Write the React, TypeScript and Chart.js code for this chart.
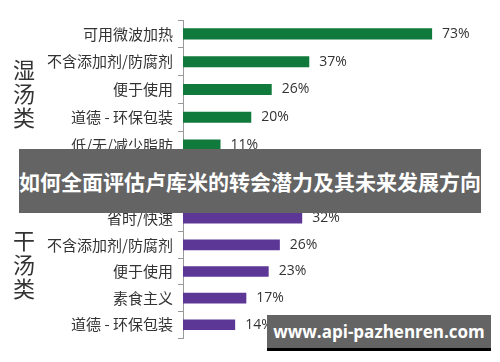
import React, { useEffect, useRef } from "react";
import { Chart, registerables } from "chart.js";

Chart.register(...registerables);

const wetCategories = ["可用微波加热", "不含添加剂/防腐剂", "便于使用", "道德 - 环保包装", "低/无/减少脂肪"];
const wetValues = [73, 37, 26, 20, 11];
const dryCategories = ["省时/快速", "不含添加剂/防腐剂", "便于使用", "素食主义", "道德 - 环保包装"];
const dryValues = [32, 26, 23, 17, 14];
const wetGroupLabel = ["湿", "汤", "类"];
const dryGroupLabel = ["干", "汤", "类"];
const bannerText = "如何全面评估卢库米的转会潜力及其未来发展方向";
const watermarkText = "www.api-pazhenren.com";

const CJK = '"Noto Sans CJK SC", "Noto Sans", sans-serif';

const valueLabelPlugin = {
  id: "valueLabels",
  afterDatasetsDraw(chart: any) {
    const ctx = chart.ctx;
    const meta = chart.getDatasetMeta(0);
    const data = chart.data.datasets[0].data;
    ctx.save();
    ctx.font = '14px "Open Sans", "Noto Sans", sans-serif';
    ctx.fillStyle = "#333333";
    ctx.textAlign = "left";
    ctx.textBaseline = "middle";
    meta.data.forEach((bar: any, i: number) => {
      ctx.fillText(data[i] + "%", bar.x + 10, bar.y);
    });
    ctx.restore();
  },
};

function makeConfig(labels: string[], values: number[], color: string, max: number, padTop: number, padBottom: number, padRight: number) {
  return {
    type: "bar" as const,
    data: {
      labels,
      datasets: [
        {
          data: values,
          backgroundColor: color,
          borderWidth: 0,
          barPercentage: 0.4,
          categoryPercentage: 1.0,
        },
      ],
    },
    options: {
      indexAxis: "y" as const,
      animation: false as const,
      responsive: false,
      maintainAspectRatio: false,
      layout: { padding: { top: padTop, bottom: padBottom, left: 0, right: padRight } },
      plugins: { legend: { display: false }, tooltip: { enabled: false } },
      scales: {
        x: { display: false, min: 0, max },
        y: {
          afterFit: (s: any) => {
            s.width = 183;
          },
          grid: {
            drawOnChartArea: false,
            drawTicks: true,
            tickLength: 5,
            color: "#9a9a9a",
            offset: true,
          },
          border: { display: true, color: "#9a9a9a", width: 1 },
          ticks: {
            padding: 5,
            color: "#333333",
            font: { family: CJK, size: 15 },
          },
        },
      },
    },
    plugins: [valueLabelPlugin],
  };
}

function BarChart(props: { labels: string[]; values: number[]; color: string; max: number; height: number; padTop: number; padBottom: number; padRight: number; top: number }) {
  const ref = useRef<HTMLCanvasElement>(null);
  useEffect(() => {
    if (!ref.current) return;
    const chart = new Chart(
      ref.current,
      makeConfig(props.labels, props.values, props.color, props.max, props.padTop, props.padBottom, props.padRight) as any
    );
    return () => chart.destroy();
  }, []);
  return (
    <canvas
      ref={ref}
      width={500}
      height={props.height}
      style={{ position: "absolute", left: 0, top: props.top, width: 500, height: props.height }}
    />
  );
}

function GroupLabel(props: { chars: string[]; top: number }) {
  return (
    <div
      style={{
        position: "absolute",
        left: 12,
        top: props.top,
        width: 24,
        fontFamily: CJK,
        fontSize: 22,
        lineHeight: "24px",
        color: "#333333",
        textAlign: "center",
      }}
    >
      {props.chars.map((c, i) => (
        <div key={i}>{c}</div>
      ))}
    </div>
  );
}

export default function App() {
  return (
    <div style={{ position: "fixed", left: 0, top: 0, width: 500, height: 362, background: "#ffffff", overflow: "hidden" }}>
      {/* wet soup chart: axis 20..159 */}
      <BarChart labels={wetCategories} values={wetValues} color="#0f7a3c" max={80} height={180} padTop={20} padBottom={21} padRight={44} top={0} />
      {/* dry soup chart: axis 205..338 */}
      <BarChart labels={dryCategories} values={dryValues} color="#5d3796" max={80} height={172} padTop={15} padBottom={24} padRight={19} top={190} />
      <GroupLabel chars={wetGroupLabel} top={56} />
      <GroupLabel chars={dryGroupLabel} top={227} />
      <div
        style={{
          position: "absolute",
          left: 19,
          top: 149,
          width: 462,
          height: 64,
          background: "#646464",
          color: "#ffffff",
          fontFamily: CJK,
          fontWeight: 700,
          fontSize: 21,
          lineHeight: "64px",
          textAlign: "center",
          whiteSpace: "nowrap",
        }}
      >
        {bannerText}
      </div>
      <div
        style={{
          position: "absolute",
          left: 267,
          top: 315,
          width: 224,
          height: 33,
          background: "#646464",
          borderBottom: "3px solid #000000",
          color: "#ffffff",
          fontFamily: '"Open Sans", "Noto Sans", sans-serif',
          fontWeight: 700,
          fontSize: 17,
          lineHeight: "33px",
          textAlign: "center",
          whiteSpace: "nowrap",
        }}
      >
        {watermarkText}
      </div>
    </div>
  );
}
